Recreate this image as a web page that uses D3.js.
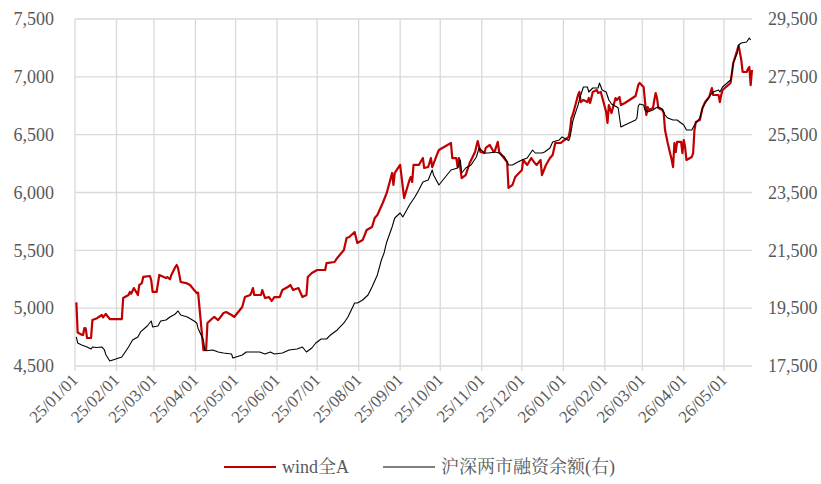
<!DOCTYPE html>
<html>
<head>
<meta charset="utf-8">
<script src="https://cdn.jsdelivr.net/npm/d3@7"></script>
<style>
  html, body { margin: 0; padding: 0; background: #fff; }
</style>
</head>
<body>
<svg id="chart" width="821" height="484"></svg>
<script>
// ---------- DATA ----------
const windDates = ["2025-01-02","2025-01-03","2025-01-06","2025-01-07","2025-01-08","2025-01-09","2025-01-10","2025-01-13","2025-01-14","2025-01-17","2025-01-21","2025-01-22","2025-01-24","2025-01-27","2025-02-05","2025-02-06","2025-02-10","2025-02-11","2025-02-12","2025-02-14","2025-02-17","2025-02-18","2025-02-20","2025-02-21","2025-02-26","2025-02-27","2025-02-28","2025-03-03","2025-03-05","2025-03-10","2025-03-11","2025-03-13","2025-03-14","2025-03-17","2025-03-18","2025-03-19","2025-03-21","2025-03-25","2025-03-28","2025-03-31","2025-04-02","2025-04-03","2025-04-07","2025-04-09","2025-04-10","2025-04-14","2025-04-15","2025-04-18","2025-04-22","2025-04-24","2025-04-28","2025-04-30","2025-05-06","2025-05-08","2025-05-12","2025-05-13","2025-05-14","2025-05-15","2025-05-20","2025-05-21","2025-05-23","2025-05-26","2025-05-28","2025-05-30","2025-06-03","2025-06-05","2025-06-09","2025-06-11","2025-06-13","2025-06-17","2025-06-20","2025-06-23","2025-06-24","2025-06-27","2025-07-01","2025-07-07","2025-07-08","2025-07-14","2025-07-16","2025-07-21","2025-07-23","2025-07-25","2025-07-29","2025-07-31","2025-08-04","2025-08-07","2025-08-11","2025-08-13","2025-08-15","2025-08-19","2025-08-22","2025-08-25","2025-08-26","2025-08-27","2025-08-28","2025-09-01","2025-09-04","2025-09-08","2025-09-09","2025-09-10","2025-09-11","2025-09-15","2025-09-18","2025-09-19","2025-09-22","2025-09-24","2025-09-25","2025-09-29","2025-09-30","2025-10-09","2025-10-10","2025-10-13","2025-10-14","2025-10-15","2025-10-17","2025-10-20","2025-10-23","2025-10-27","2025-10-29","2025-10-31","2025-11-03","2025-11-04","2025-11-07","2025-11-10","2025-11-11","2025-11-13","2025-11-14","2025-11-17","2025-11-20","2025-11-21","2025-11-24","2025-11-26","2025-12-01","2025-12-02","2025-12-05","2025-12-08","2025-12-10","2025-12-12","2025-12-15","2025-12-16","2025-12-19","2025-12-22","2025-12-24","2025-12-26","2025-12-30","2025-12-31","2026-01-05","2026-01-06","2026-01-07","2026-01-08","2026-01-12","2026-01-13","2026-01-14","2026-01-16","2026-01-19","2026-01-20","2026-01-21","2026-01-23","2026-01-26","2026-01-27","2026-01-29","2026-01-30","2026-02-02","2026-02-03","2026-02-04","2026-02-06","2026-02-09","2026-02-10","2026-02-12","2026-02-13","2026-02-16","2026-02-24","2026-02-26","2026-02-27","2026-03-02","2026-03-04","2026-03-05","2026-03-06","2026-03-09","2026-03-10","2026-03-11","2026-03-12","2026-03-13","2026-03-16","2026-03-17","2026-03-18","2026-03-20","2026-03-23","2026-03-24","2026-03-25","2026-03-26","2026-03-27","2026-03-30","2026-03-31","2026-04-01","2026-04-02","2026-04-03","2026-04-07","2026-04-08","2026-04-09","2026-04-10","2026-04-13","2026-04-15","2026-04-17","2026-04-20","2026-04-22","2026-04-23","2026-04-27","2026-04-28","2026-04-29","2026-04-30","2026-05-06","2026-05-07","2026-05-08","2026-05-11","2026-05-12","2026-05-14","2026-05-15","2026-05-18","2026-05-19","2026-05-20","2026-05-21","2026-05-22"];
const windValues = [5050,4790,4770,4768,4828,4825,4742,4742,4897,4910,4941,4920,4950,4906,4906,5088,5114,5140,5125,5174,5114,5200,5217,5270,5278,5240,5140,5140,5287,5261,5269,5250,5287,5356,5373,5347,5226,5217,5200,5157,5131,5135,4638,4640,4872,4915,4924,4897,4958,4967,4941,4924,5010,5096,5114,5140,5174,5114,5114,5157,5088,5096,5062,5096,5096,5157,5183,5200,5157,5174,5096,5114,5270,5304,5330,5330,5390,5399,5434,5503,5607,5615,5658,5563,5589,5676,5702,5779,5805,5909,5996,6125,6169,6065,6169,6238,5952,6108,6134,6091,6238,6238,6298,6212,6220,6298,6220,6341,6367,6428,6298,6298,6220,6298,6125,6151,6255,6350,6445,6350,6341,6385,6411,6350,6367,6437,6350,6307,6264,6039,6065,6134,6194,6281,6238,6298,6264,6238,6281,6151,6238,6298,6324,6428,6428,6437,6480,6540,6644,6670,6843,6869,6782,6800,6782,6817,6774,6869,6886,6860,6869,6826,6696,6601,6756,6687,6817,6800,6826,6756,6774,6834,6929,6947,6912,6670,6739,6713,6730,6800,6860,6817,6730,6713,6687,6540,6428,6281,6220,6428,6350,6437,6437,6341,6454,6393,6281,6307,6341,6540,6610,6627,6730,6782,6826,6903,6843,6843,6782,6843,6886,6947,7033,7120,7232,7270,7145,7042,7042,7068,7085,6929,7059];

const marginDates = ["2025-01-02","2025-01-03","2025-01-06","2025-01-10","2025-01-13","2025-01-14","2025-01-17","2025-01-21","2025-01-23","2025-01-24","2025-01-27","2025-02-05","2025-02-07","2025-02-10","2025-02-13","2025-02-17","2025-02-19","2025-02-24","2025-02-27","2025-02-28","2025-03-04","2025-03-06","2025-03-10","2025-03-13","2025-03-17","2025-03-19","2025-03-21","2025-03-26","2025-03-31","2025-04-02","2025-04-03","2025-04-07","2025-04-08","2025-04-09","2025-04-14","2025-04-18","2025-04-22","2025-04-28","2025-04-29","2025-05-06","2025-05-09","2025-05-14","2025-05-19","2025-05-23","2025-05-27","2025-05-30","2025-06-05","2025-06-10","2025-06-16","2025-06-20","2025-06-23","2025-06-27","2025-06-30","2025-07-04","2025-07-08","2025-07-11","2025-07-16","2025-07-21","2025-07-24","2025-07-29","2025-07-31","2025-08-04","2025-08-08","2025-08-11","2025-08-15","2025-08-18","2025-08-20","2025-08-22","2025-08-26","2025-08-28","2025-09-01","2025-09-03","2025-09-08","2025-09-12","2025-09-15","2025-09-18","2025-09-22","2025-09-25","2025-09-26","2025-09-30","2025-10-09","2025-10-14","2025-10-16","2025-10-17","2025-10-20","2025-10-24","2025-10-28","2025-10-30","2025-11-03","2025-11-06","2025-11-11","2025-11-14","2025-11-18","2025-11-21","2025-11-24","2025-11-28","2025-12-01","2025-12-05","2025-12-09","2025-12-11","2025-12-16","2025-12-18","2025-12-22","2025-12-24","2025-12-29","2025-12-31","2026-01-05","2026-01-06","2026-01-07","2026-01-08","2026-01-09","2026-01-12","2026-01-14","2026-01-16","2026-01-19","2026-01-20","2026-01-23","2026-01-27","2026-01-28","2026-01-30","2026-02-02","2026-02-04","2026-02-06","2026-02-10","2026-02-11","2026-02-13","2026-02-16","2026-02-24","2026-02-25","2026-02-26","2026-02-27","2026-03-02","2026-03-03","2026-03-05","2026-03-09","2026-03-11","2026-03-13","2026-03-16","2026-03-18","2026-03-20","2026-03-24","2026-03-27","2026-04-01","2026-04-03","2026-04-07","2026-04-09","2026-04-13","2026-04-15","2026-04-17","2026-04-21","2026-04-23","2026-04-27","2026-04-28","2026-04-30","2026-05-06","2026-05-07","2026-05-08","2026-05-11","2026-05-12","2026-05-14","2026-05-18","2026-05-20","2026-05-21"];
const marginValues = [18504,18296,18230,18158,18089,18158,18140,18158,18054,17900,17673,17812,17950,18158,18400,18504,18677,18884,19057,18850,18884,19057,19092,19196,19299,19403,19265,19196,19057,18988,18800,18400,18054,18030,18054,17985,17950,17915,17777,17881,17985,17985,17985,17915,17985,17915,17950,18054,18089,18158,17985,18123,18296,18434,18434,18573,18746,18988,19196,19679,19679,19783,19956,20233,20648,21166,21409,21789,22307,22619,22791,22653,23068,23345,23587,23863,23933,24279,24106,23760,24279,24348,24624,24175,24348,24451,24728,25039,24866,24866,24901,24866,24728,24451,24451,24555,24624,24693,24970,24866,24866,24901,25039,25247,25316,25420,25300,25420,25662,25950,26111,26526,26872,27149,27149,26976,27114,27114,27287,27045,26976,26699,26560,26457,26422,25765,25835,26007,26076,26491,26560,26526,26353,26284,26353,26422,26457,26388,26180,26076,26007,26007,25835,25662,25662,25835,26076,26422,26595,26872,26976,27045,26976,27149,27391,27633,27979,28324,28601,28670,28705,28843,28774];

const leftTicks = [4500, 5000, 5500, 6000, 6500, 7000, 7500];
const rightTicks = [17500, 19500, 21500, 23500, 25500, 27500, 29500];
const xDomain = ["2025-01-01", "2026-05-22"];
const seriesNames = ["wind全A", "沪深两市融资余额(右)"];
const seriesColors = ["#C00000", "#000000"];

// ---------- CHART ----------
const FONT = "'Liberation Serif', 'DejaVu Serif', 'Noto Serif CJK SC', 'Noto Sans CJK SC', serif";
const TXT = "#595959";
const svg = d3.select("#chart");
const x0 = 75, x1 = 752, y0 = 366, y1 = 19;

const parse = d3.utcParse("%Y-%m-%d");
const x = d3.scaleUtc().domain(xDomain.map(parse)).range([x0, x1]);
const yL = d3.scaleLinear().domain([4500, 7500]).range([y0, y1]);
const yR = d3.scaleLinear().domain([17500, 29500]).range([y0, y1]);

const grid = "#d9d9d9";
const fmt = d3.format(",");

// horizontal gridlines
svg.append("g").selectAll("line").data(leftTicks).join("line")
  .attr("x1", x0).attr("x2", x1)
  .attr("y1", d => yL(d)).attr("y2", d => yL(d))
  .attr("stroke", grid).attr("stroke-width", 1.3);

// vertical gridlines at months
const months = d3.utcMonth.range(parse("2025-01-01"), parse("2026-05-02"));
svg.append("g").selectAll("line").data(months).join("line")
  .attr("x1", d => x(d)).attr("x2", d => x(d))
  .attr("y1", y1).attr("y2", y0 + 5)
  .attr("stroke", grid).attr("stroke-width", 1.3);

// left axis labels
svg.append("g").selectAll("text").data(leftTicks).join("text")
  .attr("x", 54).attr("y", d => yL(d)).attr("dy", "0.35em")
  .attr("text-anchor", "end").attr("font-size", 18)
  .attr("font-family", FONT).attr("fill", TXT)
  .text(d => fmt(d));

// right axis labels
svg.append("g").selectAll("text").data(rightTicks).join("text")
  .attr("x", 768).attr("y", d => yR(d)).attr("dy", "0.35em")
  .attr("text-anchor", "start").attr("font-size", 18)
  .attr("font-family", FONT).attr("fill", TXT)
  .text(d => fmt(d));

// x labels
const xf = d3.utcFormat("%y/%m/%d");
svg.append("g").selectAll("text").data(months).join("text")
  .attr("transform", d => `translate(${x(d) + 4},${y0 + 15}) rotate(-45)`)
  .attr("text-anchor", "end").attr("font-size", 17)
  .attr("font-family", FONT).attr("fill", TXT)
  .text(d => xf(d));

// lines
const windData = windDates.map((d, i) => ({ date: parse(d), v: windValues[i] }));
const marginData = marginDates.map((d, i) => ({ date: parse(d), v: marginValues[i] }));

svg.append("path").datum(windData)
  .attr("fill", "none").attr("stroke", seriesColors[0]).attr("stroke-width", 2.2)
  .attr("stroke-linejoin", "round")
  .attr("d", d3.line().x(d => x(d.date)).y(d => yL(d.v)));

svg.append("path").datum(marginData)
  .attr("fill", "none").attr("stroke", seriesColors[1]).attr("stroke-width", 1.1)
  .attr("stroke-linejoin", "round")
  .attr("d", d3.line().x(d => x(d.date)).y(d => yR(d.v)));

// legend
const legendItems = [
  { name: seriesNames[0], color: seriesColors[0], w: 2.2, lx: 224 },
  { name: seriesNames[1], color: seriesColors[1], w: 1.2, lx: 383 }
];
const lg = svg.append("g");
legendItems.forEach(it => {
  lg.append("line").attr("x1", it.lx).attr("x2", it.lx + 52)
    .attr("y1", 467).attr("y2", 467)
    .attr("stroke", it.color).attr("stroke-width", it.w);
  lg.append("text").attr("x", it.lx + 58).attr("y", 467).attr("dy", "0.35em")
    .attr("font-size", 18).attr("font-family", FONT).attr("fill", TXT)
    .text(it.name);
});
</script>
</body>
</html>
